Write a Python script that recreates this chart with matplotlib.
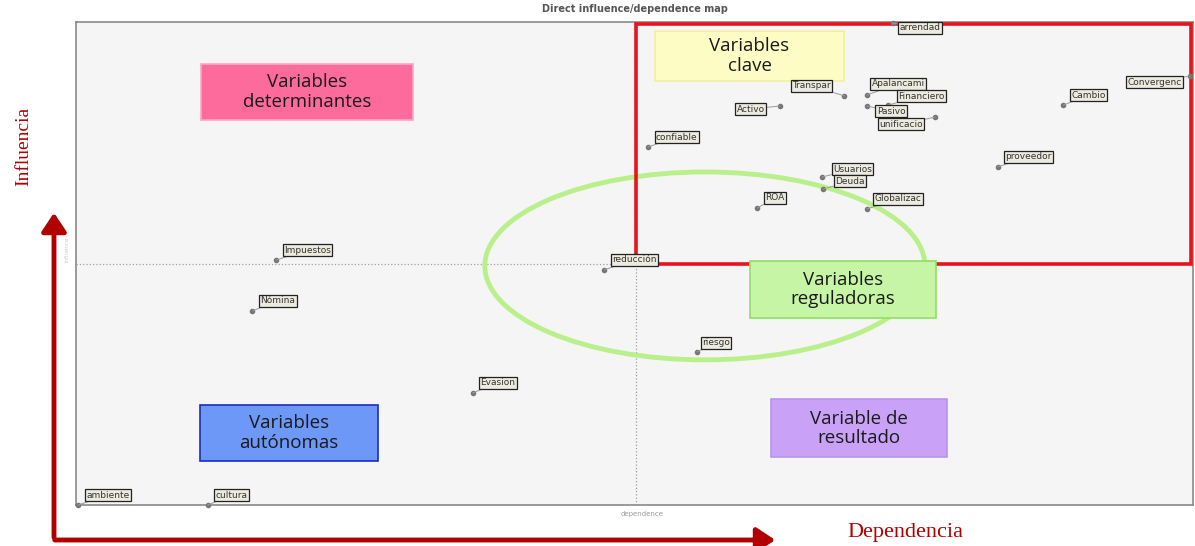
import matplotlib
matplotlib.use('Agg')
import matplotlib.pyplot as plt
from matplotlib.patches import Rectangle, Ellipse, FancyArrowPatch

# variables of the direct influence/dependence map (dependence, influence)
names = ['ambiente', 'cultura', 'Nómina', 'Impuestos', 'Evasion', 'reducción',
         'riesgo', 'confiable', 'ROA', 'Usuarios', 'Deuda', 'Globalizac',
         'Activo', 'Transpar', 'Apalancami', 'Financiero', 'Pasivo',
         'unificacio', 'arrendad', 'proveedor', 'Cambio', 'Convergenc']
dependence = [0.2, 11.8, 15.8, 17.9, 35.5, 47.3,
              55.6, 51.2, 61.0, 66.8, 66.9, 70.8,
              63.0, 68.8, 70.8, 72.7, 70.8,
              76.9, 73.1, 82.5, 88.4, 99.7]
influence = [0.0, 0.0, 40.2, 50.7, 23.2, 48.7,
             31.7, 74.1, 61.5, 67.9, 65.4, 61.3,
             82.6, 84.7, 84.9, 82.8, 82.6,
             80.3, 99.8, 70.0, 82.8, 88.8]
mean_dep = 50.1
mean_inf = 49.9

quadrants = ['Variables\ndeterminantes', 'Variables\nclave', 'Variables\nreguladoras',
             'Variables\nautónomas', 'Variable de\nresultado']

# label offsets in pixels (dx, dy, alignment)
offsets = {
    'Activo': (-15, -3, 'right'), 'Transpar': (-14, 10, 'right'),
    'Apalancami': (5, 11, 'left'), 'Financiero': (10, 9, 'left'),
    'Pasivo': (10, -5, 'left'), 'unificacio': (-12, -7, 'right'),
    'arrendad': (7, -5, 'left'), 'Convergenc': (-8, -6, 'right'),
    'Usuarios': (11, 8, 'left'), 'Deuda': (12, 8, 'left'),
    'riesgo': (5, 9, 'left'),
}

fig = plt.figure(figsize=(11.95, 5.46), dpi=100)
ax = fig.add_axes([76 / 1195, 41 / 546, 1117 / 1195, 483 / 546])
ax.set_facecolor('#f5f5f5')
ax.set_xlim(0, 100)
ax.set_ylim(0, 100)
ax.set_xticks([])
ax.set_yticks([])
for s in ax.spines.values():
    s.set_color('#8a8a8a')
    s.set_linewidth(1.2)

ax.axvline(mean_dep, color='#a0a0a0', ls=':', lw=0.9)
ax.axhline(mean_inf, color='#a0a0a0', ls=':', lw=0.9)

# key variables zone
ax.add_patch(Rectangle((mean_dep, mean_inf), 99.85 - mean_dep, 99.6 - mean_inf,
                       fill=False, ec='#e8141b', lw=2.6, zorder=3, clip_on=False))
ax.add_patch(Ellipse((0.563, 0.495), 0.394, 0.389, transform=ax.transAxes,
                     fill=False, ec='#b9f08c', lw=3.5, zorder=2))

boxes = [((0.112, 0.797, 0.190, 0.116), '#fc6b9b', '#f9a8c8'),
         ((0.518, 0.878, 0.170, 0.104), '#fdfcc4', '#f3efa2'),
         ((0.603, 0.387, 0.167, 0.118), '#c6f5a6', '#8fe060'),
         ((0.111, 0.091, 0.159, 0.116), '#6d98f8', '#1a2fbf'),
         ((0.622, 0.099, 0.158, 0.120), '#c9a2f8', '#b894ee')]
for (x0, y0, w, hgt), fc, ec in boxes:
    ax.add_patch(Rectangle((x0, y0), w, hgt, transform=ax.transAxes,
                           fc=fc, ec=ec, lw=1.2, zorder=4))
for ((x0, y0, w, hgt), fc, ec), label in zip(boxes, quadrants):
    ax.text(x0 + w / 2, y0 + hgt / 2, label, transform=ax.transAxes,
            ha='center', va='center', fontsize=13.5, family='Open Sans',
            color='#1a1a1a', linespacing=1.1, zorder=5)

ax.plot(dependence, influence, 'o', ms=3, color='#777777', zorder=6, clip_on=False)
for n, xv, yv in zip(names, dependence, influence):
    dx, dy, ha = offsets.get(n, (8, 10, 'left'))
    ax.annotate(n, (xv, yv), xytext=(dx, dy), textcoords='offset pixels',
                ha=ha, va='center', fontsize=6.5, color='#333333', zorder=7,
                annotation_clip=False,
                bbox=dict(boxstyle='square,pad=0.15', fc='#ecebdf', ec='#222222', lw=0.9),
                arrowprops=dict(arrowstyle='-', color='#999999', lw=0.7,
                                shrinkA=0, shrinkB=0))

ax.text(0.507, -0.012, 'dependence', transform=ax.transAxes, ha='center', va='top',
        fontsize=5, color='#999999')
ax.text(-0.008, 0.53, 'influence', transform=ax.transAxes, ha='center', va='center',
        rotation=90, fontsize=4, color='#cccccc')
fig.text(0.531, 0.983, 'Direct influence/dependence map', ha='center', va='center',
         fontsize=7, fontweight='bold', color='#555555')

# big axis arrows
red = '#b20000'
fig.add_artist(FancyArrowPatch((54 / 1195, 6 / 546), (54 / 1195, 336 / 546),
                               transform=fig.transFigure, arrowstyle='-|>,head_length=4.5,head_width=3',
                               color=red, lw=3.5, mutation_scale=2.5))
fig.add_artist(FancyArrowPatch((52 / 1195, 6 / 546), (778 / 1195, 6 / 546),
                               transform=fig.transFigure, arrowstyle='-|>,head_length=4.5,head_width=3',
                               color=red, lw=3.5, mutation_scale=2.5))
fig.text(24 / 1195, 400 / 546, 'Influencia', rotation=90, ha='center', va='center',
         fontsize=14, family='Liberation Serif', color=red)
fig.text(905 / 1195, 4 / 546, 'Dependencia', ha='center', va='bottom',
         fontsize=16, family='Liberation Serif', color=red)

fig.savefig('out.png', dpi=100)
